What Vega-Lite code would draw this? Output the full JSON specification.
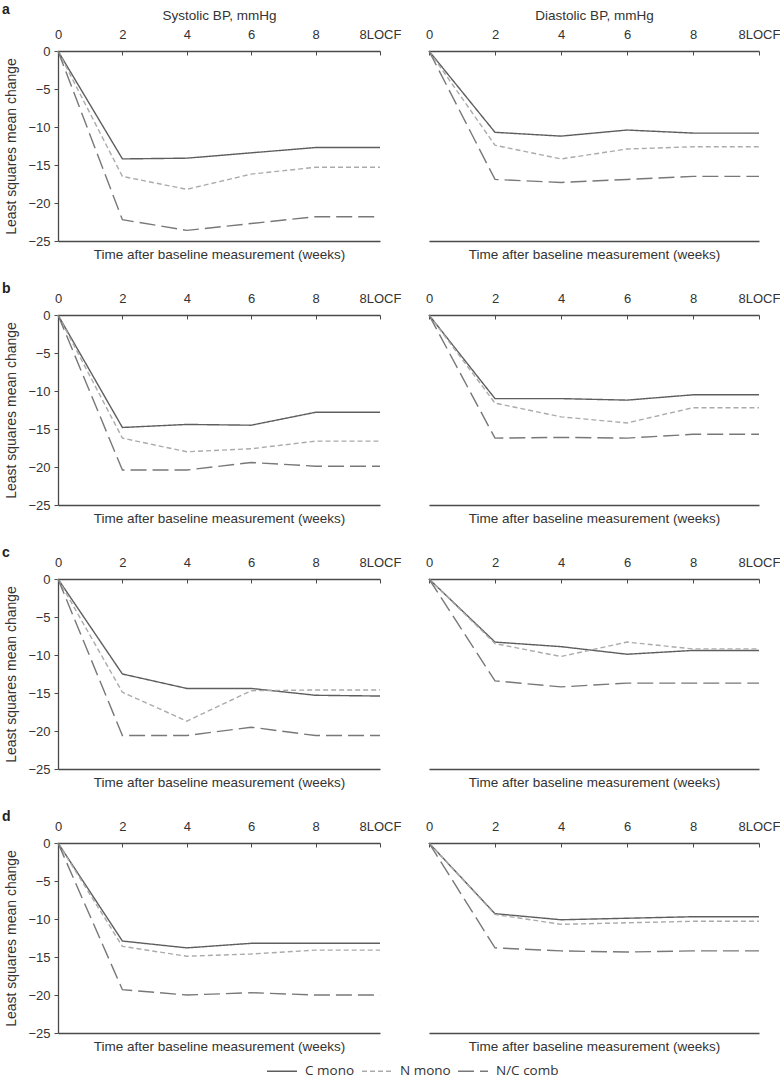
{
  "$schema": "https://vega.github.io/schema/vega-lite/v6.json",
  "padding": {"left": 2, "top": 3, "right": 0, "bottom": 0},
  "background": "white",
  "config": {
    "font": "Liberation Sans",
    "view": {"stroke": null},
    "axis": {"grid": false, "domainColor": "#4a4a4a", "tickColor": "#4a4a4a", "domainWidth": 1.3, "tickWidth": 1, "labelColor": "#333333", "titleColor": "#333333", "labelFont": "Liberation Sans", "titleFont": "Liberation Sans", "labelFontSize": 13, "titleFontSize": 13.5, "titleFontWeight": "normal"},
    "legend": {"orient": "none", "legendX": 208, "legendY": 1004, "direction": "horizontal", "symbolType": "stroke", "symbolSize": 900, "symbolStrokeWidth": 1.4, "labelFont": "Open Sans", "labelFontSize": 13.5, "labelColor": "#333333", "labelOffset": 7, "columnPadding": 4},
    "title": {"fontWeight": "bold", "fontSize": 14, "anchor": "start", "frame": "group", "dx": -56, "offset": -4, "color": "#222222"}
  },
  "data": {"values": [
    {"panel": "a", "measure": "Systolic", "group": "C mono", "week": "0", "change": 0},
    {"panel": "a", "measure": "Systolic", "group": "C mono", "week": "2", "change": -14.2},
    {"panel": "a", "measure": "Systolic", "group": "C mono", "week": "4", "change": -14.1},
    {"panel": "a", "measure": "Systolic", "group": "C mono", "week": "6", "change": -13.4},
    {"panel": "a", "measure": "Systolic", "group": "C mono", "week": "8", "change": -12.7},
    {"panel": "a", "measure": "Systolic", "group": "C mono", "week": "8LOCF", "change": -12.7},
    {"panel": "a", "measure": "Systolic", "group": "N mono", "week": "0", "change": 0},
    {"panel": "a", "measure": "Systolic", "group": "N mono", "week": "2", "change": -16.5},
    {"panel": "a", "measure": "Systolic", "group": "N mono", "week": "4", "change": -18.2},
    {"panel": "a", "measure": "Systolic", "group": "N mono", "week": "6", "change": -16.2},
    {"panel": "a", "measure": "Systolic", "group": "N mono", "week": "8", "change": -15.3},
    {"panel": "a", "measure": "Systolic", "group": "N mono", "week": "8LOCF", "change": -15.3},
    {"panel": "a", "measure": "Systolic", "group": "N/C comb", "week": "0", "change": 0},
    {"panel": "a", "measure": "Systolic", "group": "N/C comb", "week": "2", "change": -22.2},
    {"panel": "a", "measure": "Systolic", "group": "N/C comb", "week": "4", "change": -23.6},
    {"panel": "a", "measure": "Systolic", "group": "N/C comb", "week": "6", "change": -22.7},
    {"panel": "a", "measure": "Systolic", "group": "N/C comb", "week": "8", "change": -21.8},
    {"panel": "a", "measure": "Systolic", "group": "N/C comb", "week": "8LOCF", "change": -21.8},
    {"panel": "a", "measure": "Diastolic", "group": "C mono", "week": "0", "change": 0},
    {"panel": "a", "measure": "Diastolic", "group": "C mono", "week": "2", "change": -10.7},
    {"panel": "a", "measure": "Diastolic", "group": "C mono", "week": "4", "change": -11.2},
    {"panel": "a", "measure": "Diastolic", "group": "C mono", "week": "6", "change": -10.4},
    {"panel": "a", "measure": "Diastolic", "group": "C mono", "week": "8", "change": -10.8},
    {"panel": "a", "measure": "Diastolic", "group": "C mono", "week": "8LOCF", "change": -10.8},
    {"panel": "a", "measure": "Diastolic", "group": "N mono", "week": "0", "change": 0},
    {"panel": "a", "measure": "Diastolic", "group": "N mono", "week": "2", "change": -12.4},
    {"panel": "a", "measure": "Diastolic", "group": "N mono", "week": "4", "change": -14.2},
    {"panel": "a", "measure": "Diastolic", "group": "N mono", "week": "6", "change": -12.9},
    {"panel": "a", "measure": "Diastolic", "group": "N mono", "week": "8", "change": -12.6},
    {"panel": "a", "measure": "Diastolic", "group": "N mono", "week": "8LOCF", "change": -12.6},
    {"panel": "a", "measure": "Diastolic", "group": "N/C comb", "week": "0", "change": 0},
    {"panel": "a", "measure": "Diastolic", "group": "N/C comb", "week": "2", "change": -16.9},
    {"panel": "a", "measure": "Diastolic", "group": "N/C comb", "week": "4", "change": -17.3},
    {"panel": "a", "measure": "Diastolic", "group": "N/C comb", "week": "6", "change": -16.9},
    {"panel": "a", "measure": "Diastolic", "group": "N/C comb", "week": "8", "change": -16.5},
    {"panel": "a", "measure": "Diastolic", "group": "N/C comb", "week": "8LOCF", "change": -16.5},
    {"panel": "b", "measure": "Systolic", "group": "C mono", "week": "0", "change": 0},
    {"panel": "b", "measure": "Systolic", "group": "C mono", "week": "2", "change": -14.8},
    {"panel": "b", "measure": "Systolic", "group": "C mono", "week": "4", "change": -14.4},
    {"panel": "b", "measure": "Systolic", "group": "C mono", "week": "6", "change": -14.5},
    {"panel": "b", "measure": "Systolic", "group": "C mono", "week": "8", "change": -12.8},
    {"panel": "b", "measure": "Systolic", "group": "C mono", "week": "8LOCF", "change": -12.8},
    {"panel": "b", "measure": "Systolic", "group": "N mono", "week": "0", "change": 0},
    {"panel": "b", "measure": "Systolic", "group": "N mono", "week": "2", "change": -16.2},
    {"panel": "b", "measure": "Systolic", "group": "N mono", "week": "4", "change": -18.0},
    {"panel": "b", "measure": "Systolic", "group": "N mono", "week": "6", "change": -17.6},
    {"panel": "b", "measure": "Systolic", "group": "N mono", "week": "8", "change": -16.6},
    {"panel": "b", "measure": "Systolic", "group": "N mono", "week": "8LOCF", "change": -16.6},
    {"panel": "b", "measure": "Systolic", "group": "N/C comb", "week": "0", "change": 0},
    {"panel": "b", "measure": "Systolic", "group": "N/C comb", "week": "2", "change": -20.4},
    {"panel": "b", "measure": "Systolic", "group": "N/C comb", "week": "4", "change": -20.4},
    {"panel": "b", "measure": "Systolic", "group": "N/C comb", "week": "6", "change": -19.4},
    {"panel": "b", "measure": "Systolic", "group": "N/C comb", "week": "8", "change": -19.9},
    {"panel": "b", "measure": "Systolic", "group": "N/C comb", "week": "8LOCF", "change": -19.9},
    {"panel": "b", "measure": "Diastolic", "group": "C mono", "week": "0", "change": 0},
    {"panel": "b", "measure": "Diastolic", "group": "C mono", "week": "2", "change": -11.0},
    {"panel": "b", "measure": "Diastolic", "group": "C mono", "week": "4", "change": -11.0},
    {"panel": "b", "measure": "Diastolic", "group": "C mono", "week": "6", "change": -11.2},
    {"panel": "b", "measure": "Diastolic", "group": "C mono", "week": "8", "change": -10.5},
    {"panel": "b", "measure": "Diastolic", "group": "C mono", "week": "8LOCF", "change": -10.5},
    {"panel": "b", "measure": "Diastolic", "group": "N mono", "week": "0", "change": 0},
    {"panel": "b", "measure": "Diastolic", "group": "N mono", "week": "2", "change": -11.6},
    {"panel": "b", "measure": "Diastolic", "group": "N mono", "week": "4", "change": -13.4},
    {"panel": "b", "measure": "Diastolic", "group": "N mono", "week": "6", "change": -14.2},
    {"panel": "b", "measure": "Diastolic", "group": "N mono", "week": "8", "change": -12.2},
    {"panel": "b", "measure": "Diastolic", "group": "N mono", "week": "8LOCF", "change": -12.2},
    {"panel": "b", "measure": "Diastolic", "group": "N/C comb", "week": "0", "change": 0},
    {"panel": "b", "measure": "Diastolic", "group": "N/C comb", "week": "2", "change": -16.2},
    {"panel": "b", "measure": "Diastolic", "group": "N/C comb", "week": "4", "change": -16.1},
    {"panel": "b", "measure": "Diastolic", "group": "N/C comb", "week": "6", "change": -16.2},
    {"panel": "b", "measure": "Diastolic", "group": "N/C comb", "week": "8", "change": -15.7},
    {"panel": "b", "measure": "Diastolic", "group": "N/C comb", "week": "8LOCF", "change": -15.7},
    {"panel": "c", "measure": "Systolic", "group": "C mono", "week": "0", "change": 0},
    {"panel": "c", "measure": "Systolic", "group": "C mono", "week": "2", "change": -12.5},
    {"panel": "c", "measure": "Systolic", "group": "C mono", "week": "4", "change": -14.4},
    {"panel": "c", "measure": "Systolic", "group": "C mono", "week": "6", "change": -14.4},
    {"panel": "c", "measure": "Systolic", "group": "C mono", "week": "8", "change": -15.3},
    {"panel": "c", "measure": "Systolic", "group": "C mono", "week": "8LOCF", "change": -15.4},
    {"panel": "c", "measure": "Systolic", "group": "N mono", "week": "0", "change": 0},
    {"panel": "c", "measure": "Systolic", "group": "N mono", "week": "2", "change": -14.9},
    {"panel": "c", "measure": "Systolic", "group": "N mono", "week": "4", "change": -18.7},
    {"panel": "c", "measure": "Systolic", "group": "N mono", "week": "6", "change": -14.7},
    {"panel": "c", "measure": "Systolic", "group": "N mono", "week": "8", "change": -14.6},
    {"panel": "c", "measure": "Systolic", "group": "N mono", "week": "8LOCF", "change": -14.6},
    {"panel": "c", "measure": "Systolic", "group": "N/C comb", "week": "0", "change": 0},
    {"panel": "c", "measure": "Systolic", "group": "N/C comb", "week": "2", "change": -20.6},
    {"panel": "c", "measure": "Systolic", "group": "N/C comb", "week": "4", "change": -20.6},
    {"panel": "c", "measure": "Systolic", "group": "N/C comb", "week": "6", "change": -19.5},
    {"panel": "c", "measure": "Systolic", "group": "N/C comb", "week": "8", "change": -20.6},
    {"panel": "c", "measure": "Systolic", "group": "N/C comb", "week": "8LOCF", "change": -20.6},
    {"panel": "c", "measure": "Diastolic", "group": "C mono", "week": "0", "change": 0},
    {"panel": "c", "measure": "Diastolic", "group": "C mono", "week": "2", "change": -8.3},
    {"panel": "c", "measure": "Diastolic", "group": "C mono", "week": "4", "change": -8.9},
    {"panel": "c", "measure": "Diastolic", "group": "C mono", "week": "6", "change": -9.9},
    {"panel": "c", "measure": "Diastolic", "group": "C mono", "week": "8", "change": -9.4},
    {"panel": "c", "measure": "Diastolic", "group": "C mono", "week": "8LOCF", "change": -9.4},
    {"panel": "c", "measure": "Diastolic", "group": "N mono", "week": "0", "change": 0},
    {"panel": "c", "measure": "Diastolic", "group": "N mono", "week": "2", "change": -8.5},
    {"panel": "c", "measure": "Diastolic", "group": "N mono", "week": "4", "change": -10.2},
    {"panel": "c", "measure": "Diastolic", "group": "N mono", "week": "6", "change": -8.3},
    {"panel": "c", "measure": "Diastolic", "group": "N mono", "week": "8", "change": -9.2},
    {"panel": "c", "measure": "Diastolic", "group": "N mono", "week": "8LOCF", "change": -9.2},
    {"panel": "c", "measure": "Diastolic", "group": "N/C comb", "week": "0", "change": 0},
    {"panel": "c", "measure": "Diastolic", "group": "N/C comb", "week": "2", "change": -13.4},
    {"panel": "c", "measure": "Diastolic", "group": "N/C comb", "week": "4", "change": -14.2},
    {"panel": "c", "measure": "Diastolic", "group": "N/C comb", "week": "6", "change": -13.7},
    {"panel": "c", "measure": "Diastolic", "group": "N/C comb", "week": "8", "change": -13.7},
    {"panel": "c", "measure": "Diastolic", "group": "N/C comb", "week": "8LOCF", "change": -13.7},
    {"panel": "d", "measure": "Systolic", "group": "C mono", "week": "0", "change": 0},
    {"panel": "d", "measure": "Systolic", "group": "C mono", "week": "2", "change": -12.9},
    {"panel": "d", "measure": "Systolic", "group": "C mono", "week": "4", "change": -13.8},
    {"panel": "d", "measure": "Systolic", "group": "C mono", "week": "6", "change": -13.2},
    {"panel": "d", "measure": "Systolic", "group": "C mono", "week": "8", "change": -13.2},
    {"panel": "d", "measure": "Systolic", "group": "C mono", "week": "8LOCF", "change": -13.2},
    {"panel": "d", "measure": "Systolic", "group": "N mono", "week": "0", "change": 0},
    {"panel": "d", "measure": "Systolic", "group": "N mono", "week": "2", "change": -13.6},
    {"panel": "d", "measure": "Systolic", "group": "N mono", "week": "4", "change": -14.9},
    {"panel": "d", "measure": "Systolic", "group": "N mono", "week": "6", "change": -14.6},
    {"panel": "d", "measure": "Systolic", "group": "N mono", "week": "8", "change": -14.1},
    {"panel": "d", "measure": "Systolic", "group": "N mono", "week": "8LOCF", "change": -14.1},
    {"panel": "d", "measure": "Systolic", "group": "N/C comb", "week": "0", "change": 0},
    {"panel": "d", "measure": "Systolic", "group": "N/C comb", "week": "2", "change": -19.3},
    {"panel": "d", "measure": "Systolic", "group": "N/C comb", "week": "4", "change": -20.0},
    {"panel": "d", "measure": "Systolic", "group": "N/C comb", "week": "6", "change": -19.7},
    {"panel": "d", "measure": "Systolic", "group": "N/C comb", "week": "8", "change": -20.0},
    {"panel": "d", "measure": "Systolic", "group": "N/C comb", "week": "8LOCF", "change": -20.0},
    {"panel": "d", "measure": "Diastolic", "group": "C mono", "week": "0", "change": 0},
    {"panel": "d", "measure": "Diastolic", "group": "C mono", "week": "2", "change": -9.3},
    {"panel": "d", "measure": "Diastolic", "group": "C mono", "week": "4", "change": -10.1},
    {"panel": "d", "measure": "Diastolic", "group": "C mono", "week": "6", "change": -9.9},
    {"panel": "d", "measure": "Diastolic", "group": "C mono", "week": "8", "change": -9.7},
    {"panel": "d", "measure": "Diastolic", "group": "C mono", "week": "8LOCF", "change": -9.7},
    {"panel": "d", "measure": "Diastolic", "group": "N mono", "week": "0", "change": 0},
    {"panel": "d", "measure": "Diastolic", "group": "N mono", "week": "2", "change": -9.4},
    {"panel": "d", "measure": "Diastolic", "group": "N mono", "week": "4", "change": -10.7},
    {"panel": "d", "measure": "Diastolic", "group": "N mono", "week": "6", "change": -10.5},
    {"panel": "d", "measure": "Diastolic", "group": "N mono", "week": "8", "change": -10.3},
    {"panel": "d", "measure": "Diastolic", "group": "N mono", "week": "8LOCF", "change": -10.3},
    {"panel": "d", "measure": "Diastolic", "group": "N/C comb", "week": "0", "change": 0},
    {"panel": "d", "measure": "Diastolic", "group": "N/C comb", "week": "2", "change": -13.8},
    {"panel": "d", "measure": "Diastolic", "group": "N/C comb", "week": "4", "change": -14.2},
    {"panel": "d", "measure": "Diastolic", "group": "N/C comb", "week": "6", "change": -14.35},
    {"panel": "d", "measure": "Diastolic", "group": "N/C comb", "week": "8", "change": -14.2},
    {"panel": "d", "measure": "Diastolic", "group": "N/C comb", "week": "8LOCF", "change": -14.2}
  ]},
  "columns": 2,
  "spacing": {"row": 74, "column": 49},
  "bounds": "flush",
  "concat": [
      {"width": 322, "height": 190, "title": {"text": "a", "offset": -9},
       "transform": [{"filter": "datum.panel === 'a' && datum.measure === 'Systolic'"}],
       "layer": [
         {"mark": {"type": "line", "strokeWidth": 1.4},
          "encoding": {
            "x": {"field": "week", "type": "ordinal", "sort": ["0","2","4","6","8","8LOCF"], "scale": {"type": "point", "padding": 0}, "axis": {"orient": "top", "title": "Systolic BP, mmHg", "labelAngle": 0, "tickSize": -4, "labelPadding": 14, "titlePadding": 6, "labelOverlap": false, "labelFlush": false}},
            "y": {"field": "change", "type": "quantitative", "scale": {"domain": [-25, 0], "nice": false, "zero": false}, "axis": {"values": [0,-5,-10,-15,-20,-25], "title": "Least squares mean change", "titleFontSize": 14, "tickSize": 4, "labelPadding": 4, "titlePadding": 9}},
            "color": {"field": "group", "type": "nominal", "title": null, "scale": {"domain": ["C mono","N mono","N/C comb"], "range": ["#5e5e5e","#ababab","#787878"]}},
            "strokeDash": {"field": "group", "type": "nominal", "title": null, "scale": {"domain": ["C mono","N mono","N/C comb"], "range": [[1,0],[5,3],[16,6]]}}}},
         {"mark": {"type": "point", "opacity": 0},
          "encoding": {
            "x": {"field": "week", "type": "ordinal", "sort": ["0","2","4","6","8","8LOCF"], "axis": {"orient": "bottom", "labels": false, "ticks": false, "title": "Time after baseline measurement (weeks)", "titlePadding": 6}}}}
       ],
       "resolve": {"axis": {"x": "independent"}}},
      {"width": 330, "height": 190,
       "transform": [{"filter": "datum.panel === 'a' && datum.measure === 'Diastolic'"}],
       "layer": [
         {"mark": {"type": "line", "strokeWidth": 1.4},
          "encoding": {
            "x": {"field": "week", "type": "ordinal", "sort": ["0","2","4","6","8","8LOCF"], "scale": {"type": "point", "padding": 0}, "axis": {"orient": "top", "title": "Diastolic BP, mmHg", "labelAngle": 0, "tickSize": -4, "labelPadding": 14, "titlePadding": 6, "labelOverlap": false, "labelFlush": false}},
            "y": {"field": "change", "type": "quantitative", "scale": {"domain": [-25, 0], "nice": false, "zero": false}, "axis": null},
            "color": {"field": "group", "type": "nominal", "title": null, "scale": {"domain": ["C mono","N mono","N/C comb"], "range": ["#5e5e5e","#ababab","#787878"]}},
            "strokeDash": {"field": "group", "type": "nominal", "title": null, "scale": {"domain": ["C mono","N mono","N/C comb"], "range": [[1,0],[5,3],[16,6]]}}}},
         {"mark": {"type": "point", "opacity": 0},
          "encoding": {
            "x": {"field": "week", "type": "ordinal", "sort": ["0","2","4","6","8","8LOCF"], "axis": {"orient": "bottom", "labels": false, "ticks": false, "title": "Time after baseline measurement (weeks)", "titlePadding": 6}}}}
       ],
       "resolve": {"axis": {"x": "independent"}}},
      {"width": 322, "height": 190, "title": "b",
       "transform": [{"filter": "datum.panel === 'b' && datum.measure === 'Systolic'"}],
       "layer": [
         {"mark": {"type": "line", "strokeWidth": 1.4},
          "encoding": {
            "x": {"field": "week", "type": "ordinal", "sort": ["0","2","4","6","8","8LOCF"], "scale": {"type": "point", "padding": 0}, "axis": {"orient": "top", "title": null, "labelAngle": 0, "tickSize": -4, "labelPadding": 14, "labelOverlap": false, "labelFlush": false}},
            "y": {"field": "change", "type": "quantitative", "scale": {"domain": [-25, 0], "nice": false, "zero": false}, "axis": {"values": [0,-5,-10,-15,-20,-25], "title": "Least squares mean change", "titleFontSize": 14, "tickSize": 4, "labelPadding": 4, "titlePadding": 9}},
            "color": {"field": "group", "type": "nominal", "title": null, "scale": {"domain": ["C mono","N mono","N/C comb"], "range": ["#5e5e5e","#ababab","#787878"]}},
            "strokeDash": {"field": "group", "type": "nominal", "title": null, "scale": {"domain": ["C mono","N mono","N/C comb"], "range": [[1,0],[5,3],[16,6]]}}}},
         {"mark": {"type": "point", "opacity": 0},
          "encoding": {
            "x": {"field": "week", "type": "ordinal", "sort": ["0","2","4","6","8","8LOCF"], "axis": {"orient": "bottom", "labels": false, "ticks": false, "title": "Time after baseline measurement (weeks)", "titlePadding": 6}}}}
       ],
       "resolve": {"axis": {"x": "independent"}}},
      {"width": 330, "height": 190,
       "transform": [{"filter": "datum.panel === 'b' && datum.measure === 'Diastolic'"}],
       "layer": [
         {"mark": {"type": "line", "strokeWidth": 1.4},
          "encoding": {
            "x": {"field": "week", "type": "ordinal", "sort": ["0","2","4","6","8","8LOCF"], "scale": {"type": "point", "padding": 0}, "axis": {"orient": "top", "title": null, "labelAngle": 0, "tickSize": -4, "labelPadding": 14, "labelOverlap": false, "labelFlush": false}},
            "y": {"field": "change", "type": "quantitative", "scale": {"domain": [-25, 0], "nice": false, "zero": false}, "axis": null},
            "color": {"field": "group", "type": "nominal", "title": null, "scale": {"domain": ["C mono","N mono","N/C comb"], "range": ["#5e5e5e","#ababab","#787878"]}},
            "strokeDash": {"field": "group", "type": "nominal", "title": null, "scale": {"domain": ["C mono","N mono","N/C comb"], "range": [[1,0],[5,3],[16,6]]}}}},
         {"mark": {"type": "point", "opacity": 0},
          "encoding": {
            "x": {"field": "week", "type": "ordinal", "sort": ["0","2","4","6","8","8LOCF"], "axis": {"orient": "bottom", "labels": false, "ticks": false, "title": "Time after baseline measurement (weeks)", "titlePadding": 6}}}}
       ],
       "resolve": {"axis": {"x": "independent"}}},
      {"width": 322, "height": 190, "title": "c",
       "transform": [{"filter": "datum.panel === 'c' && datum.measure === 'Systolic'"}],
       "layer": [
         {"mark": {"type": "line", "strokeWidth": 1.4},
          "encoding": {
            "x": {"field": "week", "type": "ordinal", "sort": ["0","2","4","6","8","8LOCF"], "scale": {"type": "point", "padding": 0}, "axis": {"orient": "top", "title": null, "labelAngle": 0, "tickSize": -4, "labelPadding": 14, "labelOverlap": false, "labelFlush": false}},
            "y": {"field": "change", "type": "quantitative", "scale": {"domain": [-25, 0], "nice": false, "zero": false}, "axis": {"values": [0,-5,-10,-15,-20,-25], "title": "Least squares mean change", "titleFontSize": 14, "tickSize": 4, "labelPadding": 4, "titlePadding": 9}},
            "color": {"field": "group", "type": "nominal", "title": null, "scale": {"domain": ["C mono","N mono","N/C comb"], "range": ["#5e5e5e","#ababab","#787878"]}},
            "strokeDash": {"field": "group", "type": "nominal", "title": null, "scale": {"domain": ["C mono","N mono","N/C comb"], "range": [[1,0],[5,3],[16,6]]}}}},
         {"mark": {"type": "point", "opacity": 0},
          "encoding": {
            "x": {"field": "week", "type": "ordinal", "sort": ["0","2","4","6","8","8LOCF"], "axis": {"orient": "bottom", "labels": false, "ticks": false, "title": "Time after baseline measurement (weeks)", "titlePadding": 6}}}}
       ],
       "resolve": {"axis": {"x": "independent"}}},
      {"width": 330, "height": 190,
       "transform": [{"filter": "datum.panel === 'c' && datum.measure === 'Diastolic'"}],
       "layer": [
         {"mark": {"type": "line", "strokeWidth": 1.4},
          "encoding": {
            "x": {"field": "week", "type": "ordinal", "sort": ["0","2","4","6","8","8LOCF"], "scale": {"type": "point", "padding": 0}, "axis": {"orient": "top", "title": null, "labelAngle": 0, "tickSize": -4, "labelPadding": 14, "labelOverlap": false, "labelFlush": false}},
            "y": {"field": "change", "type": "quantitative", "scale": {"domain": [-25, 0], "nice": false, "zero": false}, "axis": null},
            "color": {"field": "group", "type": "nominal", "title": null, "scale": {"domain": ["C mono","N mono","N/C comb"], "range": ["#5e5e5e","#ababab","#787878"]}},
            "strokeDash": {"field": "group", "type": "nominal", "title": null, "scale": {"domain": ["C mono","N mono","N/C comb"], "range": [[1,0],[5,3],[16,6]]}}}},
         {"mark": {"type": "point", "opacity": 0},
          "encoding": {
            "x": {"field": "week", "type": "ordinal", "sort": ["0","2","4","6","8","8LOCF"], "axis": {"orient": "bottom", "labels": false, "ticks": false, "title": "Time after baseline measurement (weeks)", "titlePadding": 6}}}}
       ],
       "resolve": {"axis": {"x": "independent"}}},
      {"width": 322, "height": 190, "title": "d",
       "transform": [{"filter": "datum.panel === 'd' && datum.measure === 'Systolic'"}],
       "layer": [
         {"mark": {"type": "line", "strokeWidth": 1.4},
          "encoding": {
            "x": {"field": "week", "type": "ordinal", "sort": ["0","2","4","6","8","8LOCF"], "scale": {"type": "point", "padding": 0}, "axis": {"orient": "top", "title": null, "labelAngle": 0, "tickSize": -4, "labelPadding": 14, "labelOverlap": false, "labelFlush": false}},
            "y": {"field": "change", "type": "quantitative", "scale": {"domain": [-25, 0], "nice": false, "zero": false}, "axis": {"values": [0,-5,-10,-15,-20,-25], "title": "Least squares mean change", "titleFontSize": 14, "tickSize": 4, "labelPadding": 4, "titlePadding": 9}},
            "color": {"field": "group", "type": "nominal", "title": null, "scale": {"domain": ["C mono","N mono","N/C comb"], "range": ["#5e5e5e","#ababab","#787878"]}},
            "strokeDash": {"field": "group", "type": "nominal", "title": null, "scale": {"domain": ["C mono","N mono","N/C comb"], "range": [[1,0],[5,3],[16,6]]}}}},
         {"mark": {"type": "point", "opacity": 0},
          "encoding": {
            "x": {"field": "week", "type": "ordinal", "sort": ["0","2","4","6","8","8LOCF"], "axis": {"orient": "bottom", "labels": false, "ticks": false, "title": "Time after baseline measurement (weeks)", "titlePadding": 6}}}}
       ],
       "resolve": {"axis": {"x": "independent"}}},
      {"width": 330, "height": 190,
       "transform": [{"filter": "datum.panel === 'd' && datum.measure === 'Diastolic'"}],
       "layer": [
         {"mark": {"type": "line", "strokeWidth": 1.4},
          "encoding": {
            "x": {"field": "week", "type": "ordinal", "sort": ["0","2","4","6","8","8LOCF"], "scale": {"type": "point", "padding": 0}, "axis": {"orient": "top", "title": null, "labelAngle": 0, "tickSize": -4, "labelPadding": 14, "labelOverlap": false, "labelFlush": false}},
            "y": {"field": "change", "type": "quantitative", "scale": {"domain": [-25, 0], "nice": false, "zero": false}, "axis": null},
            "color": {"field": "group", "type": "nominal", "title": null, "scale": {"domain": ["C mono","N mono","N/C comb"], "range": ["#5e5e5e","#ababab","#787878"]}},
            "strokeDash": {"field": "group", "type": "nominal", "title": null, "scale": {"domain": ["C mono","N mono","N/C comb"], "range": [[1,0],[5,3],[16,6]]}}}},
         {"mark": {"type": "point", "opacity": 0},
          "encoding": {
            "x": {"field": "week", "type": "ordinal", "sort": ["0","2","4","6","8","8LOCF"], "axis": {"orient": "bottom", "labels": false, "ticks": false, "title": "Time after baseline measurement (weeks)", "titlePadding": 6}}}}
       ],
       "resolve": {"axis": {"x": "independent"}}}
  ]
}
